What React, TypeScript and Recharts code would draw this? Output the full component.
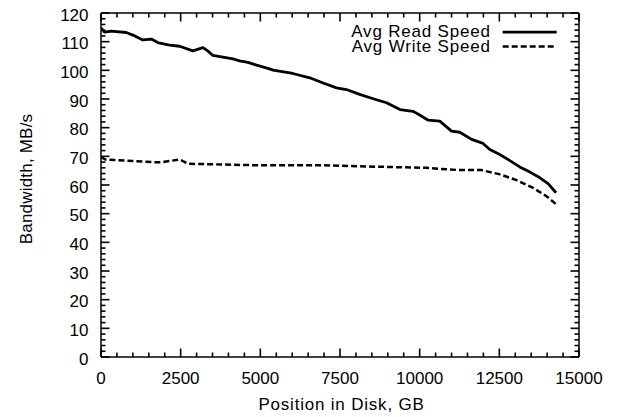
import React from 'react';
import { LineChart, Line, XAxis, YAxis, Legend } from 'recharts';

const FONT = "'Liberation Sans', Arial, Helvetica, sans-serif";

const readPositions = [0, 110, 320, 790, 1000, 1310, 1580, 1780, 2150, 2470, 2880, 3200, 3350, 3510, 4140, 4350, 4610, 4880, 5290, 5400, 6020, 6550, 6970, 7390, 7700, 8120, 8540, 8960, 9380, 9790, 10000, 10270, 10630, 11000, 11260, 11630, 11990, 12200, 12520, 12830, 13140, 13460, 13720, 14030, 14280];
const readSpeeds = [114.8, 113.3, 113.7, 113.2, 112.3, 110.6, 110.9, 109.7, 108.8, 108.4, 106.8, 107.9, 106.8, 105.2, 104.0, 103.3, 102.8, 101.8, 100.5, 100.1, 98.9, 97.4, 95.6, 93.9, 93.3, 91.6, 90.1, 88.7, 86.3, 85.7, 84.4, 82.6, 82.3, 78.8, 78.4, 75.9, 74.5, 72.4, 70.6, 68.5, 66.3, 64.5, 62.9, 60.5, 57.3];

const writePositions = [0, 140, 1000, 1730, 1940, 2470, 2730, 4880, 6970, 8960, 10210, 10630, 11260, 11940, 12520, 13040, 13560, 13980, 14280];
const writeSpeeds = [69.7, 68.9, 68.4, 67.9, 68.0, 68.9, 67.4, 66.9, 66.9, 66.3, 66.0, 65.6, 65.2, 65.2, 63.7, 61.7, 59.0, 56.1, 53.3];

const xTicks = [0, 500, 1000, 1500, 2000, 2500, 3000, 3500, 4000, 4500, 5000, 5500, 6000, 6500, 7000, 7500, 8000, 8500, 9000, 9500, 10000, 10500, 11000, 11500, 12000, 12500, 13000, 13500, 14000, 14500, 15000];
const yTicks = [0, 2, 4, 6, 8, 10, 12, 14, 16, 18, 20, 22, 24, 26, 28, 30, 32, 34, 36, 38, 40, 42, 44, 46, 48, 50, 52, 54, 56, 58, 60, 62, 64, 66, 68, 70, 72, 74, 76, 78, 80, 82, 84, 86, 88, 90, 92, 94, 96, 98, 100, 102, 104, 106, 108, 110, 112, 114, 116, 118, 120];
const X_MAJOR_STEP = 2500;
const Y_MAJOR_STEP = 10;

const readData = readPositions.map((p, i) => ({ pos: p, speed: readSpeeds[i] }));
const writeData = writePositions.map((p, i) => ({ pos: p, speed: writeSpeeds[i] }));

const X_DOMAIN: [number, number] = [0, 15000];
const Y_DOMAIN: [number, number] = [0, 120];
const MAJOR = 8.5;
const MINOR = 4.5;
const TICK_W = 1.6;
const AXIS_STROKE = { stroke: '#000', strokeWidth: 1.5 };

const XTickBottom = (props: any) => {
  const { x, y, payload } = props;
  const v = payload.value;
  const major = v % X_MAJOR_STEP === 0;
  return (
    <g>
      <line x1={x} x2={x} y1={y} y2={y - (major ? MAJOR : MINOR)} stroke="#000" strokeWidth={TICK_W} />
      {major && (
        <text x={x} y={y + 26.5} textAnchor="middle" fontSize={17} fontFamily={FONT} fill="#000">
          {v}
        </text>
      )}
    </g>
  );
};

const XTickTop = (props: any) => {
  const { x, y, payload } = props;
  const major = payload.value % X_MAJOR_STEP === 0;
  return <line x1={x} x2={x} y1={y} y2={y + (major ? MAJOR : MINOR)} stroke="#000" strokeWidth={TICK_W} />;
};

const YTickLeft = (props: any) => {
  const { x, y, payload } = props;
  const v = payload.value;
  const major = v % Y_MAJOR_STEP === 0;
  return (
    <g>
      <line x1={x} x2={x + (major ? MAJOR : MINOR)} y1={y} y2={y} stroke="#000" strokeWidth={TICK_W} />
      {major && (
        <text x={x - 12.5} y={y + 7.5} textAnchor="end" fontSize={17} fontFamily={FONT} fill="#000">
          {v}
        </text>
      )}
    </g>
  );
};

const YTickRight = (props: any) => {
  const { x, y, payload } = props;
  const major = payload.value % Y_MAJOR_STEP === 0;
  return <line x1={x} x2={x - (major ? MAJOR : MINOR)} y1={y} y2={y} stroke="#000" strokeWidth={TICK_W} />;
};

const XLabel = (props: any) => {
  const vb = props.viewBox || {};
  return (
    <text x={vb.x + vb.width / 2 + 1.5} y={vb.y + 52.5} textAnchor="middle" fontSize={17} letterSpacing={0.8} fontFamily={FONT} fill="#000">
      Position in Disk, GB
    </text>
  );
};

const YLabel = (props: any) => {
  const vb = props.viewBox || {};
  const cx = vb.x + 32;
  const cy = 179;
  return (
    <text x={cx} y={cy} transform={`rotate(-90 ${cx} ${cy})`} textAnchor="middle" fontSize={17} letterSpacing={0.2} fontFamily={FONT} fill="#000">
      Bandwidth, MB/s
    </text>
  );
};

const LegendContent = (props: any) => {
  const payload = props.payload || [];
  return (
    <svg width={240} height={40} style={{ display: 'block' }}>
      {payload.map((entry: any, i: number) => {
        const base = 17.3 + i * 14.4;
        const ly = base - 5.2;
        const dash = entry.payload && entry.payload.strokeDasharray;
        return (
          <g key={i}>
            <text x={160.7} y={base} textAnchor="end" fontSize={17} letterSpacing={0.8} fontFamily={FONT} fill="#000">
              {entry.value}
            </text>
            <line x1={172.7} x2={226.7} y1={ly} y2={ly} stroke="#000" strokeWidth={i === 0 ? 2.8 : 2.5} strokeDasharray={dash} />
          </g>
        );
      })}
    </svg>
  );
};

export default function App() {
  return (
    <div style={{ position: 'absolute', left: 0, top: 0, background: '#fff' }}>
      <LineChart width={620} height={417} margin={{ top: 12, right: 40, bottom: 0, left: 0 }}>
        <XAxis xAxisId="bottom" type="number" dataKey="pos" domain={X_DOMAIN} allowDataOverflow ticks={xTicks} interval={0} tickLine={false} tickSize={0} tickMargin={0} axisLine={AXIS_STROKE} height={60} tick={<XTickBottom />} label={<XLabel />} />
        <XAxis xAxisId="top" orientation="top" type="number" dataKey="pos" domain={X_DOMAIN} allowDataOverflow ticks={xTicks} interval={0} tickLine={false} tickSize={0} tickMargin={0} axisLine={AXIS_STROKE} height={1} tick={<XTickTop />} />
        <YAxis yAxisId="left" type="number" domain={Y_DOMAIN} allowDataOverflow ticks={yTicks} interval={0} tickLine={false} tickSize={0} tickMargin={0} axisLine={AXIS_STROKE} width={101} tick={<YTickLeft />} label={<YLabel />} />
        <YAxis yAxisId="right" orientation="right" type="number" domain={Y_DOMAIN} allowDataOverflow ticks={yTicks} interval={0} tickLine={false} tickSize={0} tickMargin={0} axisLine={AXIS_STROKE} width={1} tick={<YTickRight />} />
        <Legend layout="horizontal" verticalAlign="middle" align="center" content={<LegendContent />} wrapperStyle={{ position: 'absolute', left: 330, top: 20, width: 240, height: 40 }} />
        <Line xAxisId="bottom" yAxisId="left" data={readData} dataKey="speed" name="Avg Read Speed" type="linear" stroke="#000" strokeWidth={2.8} strokeLinejoin="round" dot={false} activeDot={false} isAnimationActive={false} />
        <Line xAxisId="top" yAxisId="right" data={writeData} dataKey="speed" name="Avg Write Speed" type="linear" stroke="#000" strokeWidth={2.5} strokeDasharray="6 3" dot={false} activeDot={false} isAnimationActive={false} />
      </LineChart>
    </div>
  );
}
